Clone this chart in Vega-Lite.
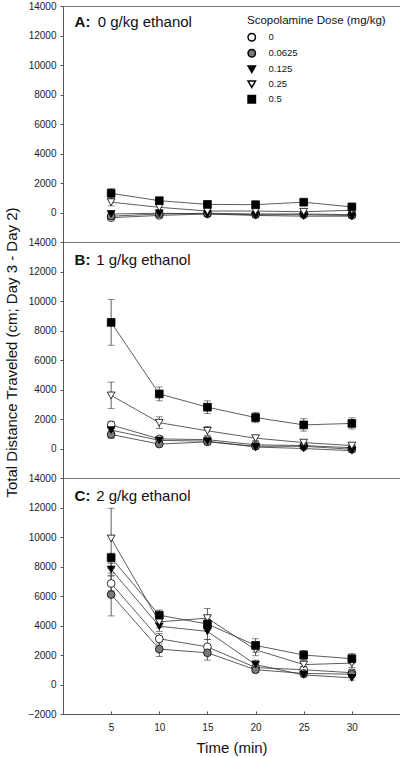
{
  "$schema": "https://vega.github.io/schema/vega-lite/v6.json",
  "padding": {"left": 3, "top": 0, "right": 2, "bottom": 0},
  "background": "white",
  "spacing": 0,
  "bounds": "flush",
  "config": {
    "font": "Liberation Sans",
    "view": {"stroke": "#7a7a7a", "strokeWidth": 1},
    "axis": {"grid": false, "domainColor": "#555555", "tickColor": "#555555", "labelColor": "#222222", "labelFontSize": 10, "labelFont": "Liberation Sans", "titleFont": "Liberation Sans", "titleFontSize": 15, "titleFontWeight": "normal", "titleColor": "#111111", "labelOverlap": false, "format": "d"},
    "axisY": {"labelOverlap": false, "labelBound": false, "tickSize": 3, "labelPadding": 4, "tickCount": 20}
  },
  "datasets": {
    "labels": [
      {"panel": "A", "tag": "A:", "desc": "0 g/kg ethanol"},
      {"panel": "B", "tag": "B:", "desc": "1 g/kg ethanol"},
      {"panel": "C", "tag": "C:", "desc": "2 g/kg ethanol"}
    ],
    "d": [
      {"panel": "A", "dose": "0", "time": 5, "dist": -350, "sem": 100},
      {"panel": "A", "dose": "0", "time": 10, "dist": -200, "sem": 100},
      {"panel": "A", "dose": "0", "time": 15, "dist": -100, "sem": 100},
      {"panel": "A", "dose": "0", "time": 20, "dist": -150, "sem": 100},
      {"panel": "A", "dose": "0", "time": 25, "dist": -150, "sem": 100},
      {"panel": "A", "dose": "0", "time": 30, "dist": -200, "sem": 100},
      {"panel": "A", "dose": "0.0625", "time": 5, "dist": -250, "sem": 100},
      {"panel": "A", "dose": "0.0625", "time": 10, "dist": -100, "sem": 100},
      {"panel": "A", "dose": "0.0625", "time": 15, "dist": -50, "sem": 100},
      {"panel": "A", "dose": "0.0625", "time": 20, "dist": -100, "sem": 100},
      {"panel": "A", "dose": "0.0625", "time": 25, "dist": -100, "sem": 100},
      {"panel": "A", "dose": "0.0625", "time": 30, "dist": -150, "sem": 100},
      {"panel": "A", "dose": "0.125", "time": 5, "dist": -100, "sem": 100},
      {"panel": "A", "dose": "0.125", "time": 10, "dist": -50, "sem": 100},
      {"panel": "A", "dose": "0.125", "time": 15, "dist": -100, "sem": 100},
      {"panel": "A", "dose": "0.125", "time": 20, "dist": -200, "sem": 100},
      {"panel": "A", "dose": "0.125", "time": 25, "dist": -250, "sem": 100},
      {"panel": "A", "dose": "0.125", "time": 30, "dist": -250, "sem": 100},
      {"panel": "A", "dose": "0.25", "time": 5, "dist": 700, "sem": 250},
      {"panel": "A", "dose": "0.25", "time": 10, "dist": 350, "sem": 150},
      {"panel": "A", "dose": "0.25", "time": 15, "dist": 100, "sem": 100},
      {"panel": "A", "dose": "0.25", "time": 20, "dist": 100, "sem": 100},
      {"panel": "A", "dose": "0.25", "time": 25, "dist": 50, "sem": 100},
      {"panel": "A", "dose": "0.25", "time": 30, "dist": 150, "sem": 100},
      {"panel": "A", "dose": "0.5", "time": 5, "dist": 1300, "sem": 320},
      {"panel": "A", "dose": "0.5", "time": 10, "dist": 800, "sem": 150},
      {"panel": "A", "dose": "0.5", "time": 15, "dist": 550, "sem": 120},
      {"panel": "A", "dose": "0.5", "time": 20, "dist": 530, "sem": 120},
      {"panel": "A", "dose": "0.5", "time": 25, "dist": 700, "sem": 120},
      {"panel": "A", "dose": "0.5", "time": 30, "dist": 380, "sem": 120},
      {"panel": "B", "dose": "0", "time": 5, "dist": 1600, "sem": 250},
      {"panel": "B", "dose": "0", "time": 10, "dist": 650, "sem": 150},
      {"panel": "B", "dose": "0", "time": 15, "dist": 600, "sem": 150},
      {"panel": "B", "dose": "0", "time": 20, "dist": 250, "sem": 100},
      {"panel": "B", "dose": "0", "time": 25, "dist": 200, "sem": 100},
      {"panel": "B", "dose": "0", "time": 30, "dist": 50, "sem": 100},
      {"panel": "B", "dose": "0.0625", "time": 5, "dist": 950, "sem": 250},
      {"panel": "B", "dose": "0.0625", "time": 10, "dist": 300, "sem": 120},
      {"panel": "B", "dose": "0.0625", "time": 15, "dist": 450, "sem": 120},
      {"panel": "B", "dose": "0.0625", "time": 20, "dist": 150, "sem": 100},
      {"panel": "B", "dose": "0.0625", "time": 25, "dist": 150, "sem": 100},
      {"panel": "B", "dose": "0.0625", "time": 30, "dist": -50, "sem": 100},
      {"panel": "B", "dose": "0.125", "time": 5, "dist": 1250, "sem": 250},
      {"panel": "B", "dose": "0.125", "time": 10, "dist": 550, "sem": 120},
      {"panel": "B", "dose": "0.125", "time": 15, "dist": 500, "sem": 120},
      {"panel": "B", "dose": "0.125", "time": 20, "dist": 100, "sem": 100},
      {"panel": "B", "dose": "0.125", "time": 25, "dist": 0, "sem": 100},
      {"panel": "B", "dose": "0.125", "time": 30, "dist": -150, "sem": 100},
      {"panel": "B", "dose": "0.25", "time": 5, "dist": 3600, "sem": 900},
      {"panel": "B", "dose": "0.25", "time": 10, "dist": 1750, "sem": 400},
      {"panel": "B", "dose": "0.25", "time": 15, "dist": 1200, "sem": 300},
      {"panel": "B", "dose": "0.25", "time": 20, "dist": 700, "sem": 150},
      {"panel": "B", "dose": "0.25", "time": 25, "dist": 400, "sem": 150},
      {"panel": "B", "dose": "0.25", "time": 30, "dist": 200, "sem": 100},
      {"panel": "B", "dose": "0.5", "time": 5, "dist": 8550, "sem": 1550},
      {"panel": "B", "dose": "0.5", "time": 10, "dist": 3700, "sem": 470},
      {"panel": "B", "dose": "0.5", "time": 15, "dist": 2800, "sem": 430},
      {"panel": "B", "dose": "0.5", "time": 20, "dist": 2100, "sem": 350},
      {"panel": "B", "dose": "0.5", "time": 25, "dist": 1600, "sem": 420},
      {"panel": "B", "dose": "0.5", "time": 30, "dist": 1700, "sem": 380},
      {"panel": "C", "dose": "0", "time": 5, "dist": 6850, "sem": 500},
      {"panel": "C", "dose": "0", "time": 10, "dist": 3100, "sem": 350},
      {"panel": "C", "dose": "0", "time": 15, "dist": 2550, "sem": 500},
      {"panel": "C", "dose": "0", "time": 20, "dist": 1150, "sem": 300},
      {"panel": "C", "dose": "0", "time": 25, "dist": 1000, "sem": 200},
      {"panel": "C", "dose": "0", "time": 30, "dist": 800, "sem": 200},
      {"panel": "C", "dose": "0.0625", "time": 5, "dist": 6100, "sem": 1450},
      {"panel": "C", "dose": "0.0625", "time": 10, "dist": 2400, "sem": 500},
      {"panel": "C", "dose": "0.0625", "time": 15, "dist": 2150, "sem": 500},
      {"panel": "C", "dose": "0.0625", "time": 20, "dist": 1000, "sem": 200},
      {"panel": "C", "dose": "0.0625", "time": 25, "dist": 750, "sem": 150},
      {"panel": "C", "dose": "0.0625", "time": 30, "dist": 700, "sem": 150},
      {"panel": "C", "dose": "0.125", "time": 5, "dist": 7800, "sem": 400},
      {"panel": "C", "dose": "0.125", "time": 10, "dist": 3950, "sem": 350},
      {"panel": "C", "dose": "0.125", "time": 15, "dist": 3600, "sem": 550},
      {"panel": "C", "dose": "0.125", "time": 20, "dist": 1350, "sem": 300},
      {"panel": "C", "dose": "0.125", "time": 25, "dist": 650, "sem": 150},
      {"panel": "C", "dose": "0.125", "time": 30, "dist": 450, "sem": 150},
      {"panel": "C", "dose": "0.25", "time": 5, "dist": 9900, "sem": 2050},
      {"panel": "C", "dose": "0.25", "time": 10, "dist": 4250, "sem": 400},
      {"panel": "C", "dose": "0.25", "time": 15, "dist": 4500, "sem": 650},
      {"panel": "C", "dose": "0.25", "time": 20, "dist": 2350, "sem": 400},
      {"panel": "C", "dose": "0.25", "time": 25, "dist": 1350, "sem": 300},
      {"panel": "C", "dose": "0.25", "time": 30, "dist": 1450, "sem": 300},
      {"panel": "C", "dose": "0.5", "time": 5, "dist": 8600, "sem": 300},
      {"panel": "C", "dose": "0.5", "time": 10, "dist": 4700, "sem": 350},
      {"panel": "C", "dose": "0.5", "time": 15, "dist": 4100, "sem": 300},
      {"panel": "C", "dose": "0.5", "time": 20, "dist": 2650, "sem": 450},
      {"panel": "C", "dose": "0.5", "time": 25, "dist": 2000, "sem": 300},
      {"panel": "C", "dose": "0.5", "time": 30, "dist": 1750, "sem": 350}
    ]
  },
  "resolve": {"legend": {"shape": "independent", "fill": "independent"}},
  "vconcat": [
    {
      "width": 337, "height": 236,
      "layer": [
        {"data": {"name": "d"}, "transform": [{"filter": "datum.panel == 'A'"}],
         "mark": {"type": "line", "color": "#333333", "strokeWidth": 0.8},
         "encoding": {
           "x": {"field": "time", "type": "quantitative", "scale": {"domain": [0, 35], "nice": false}, "axis": null},
           "y": {"field": "dist", "type": "quantitative", "title": null, "scale": {"domain": [-2000, 14000], "nice": false}, "axis": {"values": [0, 2000, 4000, 6000, 8000, 10000, 12000, 14000], "labelOverlap": false, "tickCount": 20}},
           "detail": {"field": "dose"}}},
        {"data": {"name": "d"}, "transform": [{"filter": "datum.panel == 'A'"}],
         "mark": {"type": "errorbar", "color": "#333333", "thickness": 0.8, "ticks": {"size": 7, "color": "#333333", "thickness": 0.8}},
         "encoding": {
           "x": {"field": "time", "type": "quantitative", "axis": null},
           "y": {"field": "dist", "type": "quantitative", "title": null, "axis": {"values": [0, 2000, 4000, 6000, 8000, 10000, 12000, 14000], "labelOverlap": false, "tickCount": 20}},
           "yError": {"field": "sem"},
           "detail": {"field": "dose"}}},
        {"data": {"name": "d"}, "transform": [{"filter": "datum.panel == 'A'"}],
         "mark": {"type": "point", "filled": true, "opacity": 1, "strokeWidth": 0.8, "size": 60},
         "encoding": {
           "x": {"field": "time", "type": "quantitative", "axis": null},
           "y": {"field": "dist", "type": "quantitative", "title": null, "axis": {"values": [0, 2000, 4000, 6000, 8000, 10000, 12000, 14000], "labelOverlap": false, "tickCount": 20}},
           "stroke": {"value": "black"},
           "shape": {"field": "dose", "type": "nominal", "scale": {"domain": ["0", "0.0625", "0.125", "0.25", "0.5"], "range": ["circle", "circle", "triangle-down", "triangle-down", "square"]},
             "legend": {"title": "Scopolamine Dose (mg/kg)", "orient": "none", "legendX": 184, "legendY": 9, "padding": 0, "titleFontSize": 11.5, "titleFontWeight": "normal", "titleFont": "Liberation Sans", "titleColor": "#111111", "titlePadding": 6, "labelFontSize": 9.5, "labelFont": "Liberation Sans", "labelColor": "#111111", "rowPadding": 2, "symbolSize": 55, "labelOffset": 12,
               "encode": {"symbols": {"update": {"stroke": {"value": "black"}, "strokeWidth": {"value": 0.8}, "opacity": {"value": 1}}}}}},
           "fill": {"field": "dose", "type": "nominal", "scale": {"domain": ["0", "0.0625", "0.125", "0.25", "0.5"], "range": ["white", "#7a7a7a", "black", "white", "black"]},
             "legend": {"title": "Scopolamine Dose (mg/kg)", "orient": "none", "legendX": 184, "legendY": 9, "padding": 0, "titleFontSize": 11.5, "titleFontWeight": "normal", "titleFont": "Liberation Sans", "titleColor": "#111111", "titlePadding": 6, "labelFontSize": 9.5, "labelFont": "Liberation Sans", "labelColor": "#111111", "rowPadding": 2, "symbolSize": 55, "labelOffset": 12,
               "encode": {"symbols": {"update": {"stroke": {"value": "black"}, "strokeWidth": {"value": 0.8}, "opacity": {"value": 1}}}}}}}},
        {"data": {"name": "labels"}, "transform": [{"filter": "datum.panel == 'A'"}],
         "mark": {"type": "text", "align": "left", "baseline": "middle", "fontSize": 15, "fontWeight": "bold", "font": "Liberation Sans", "color": "#111111"},
         "encoding": {"x": {"datum": 1.2}, "y": {"datum": 12900}, "text": {"field": "tag"}}},
        {"data": {"name": "labels"}, "transform": [{"filter": "datum.panel == 'A'"}],
         "mark": {"type": "text", "align": "left", "baseline": "middle", "fontSize": 15, "font": "Liberation Sans", "color": "#111111"},
         "encoding": {"x": {"datum": 3.6}, "y": {"datum": 12900}, "text": {"field": "desc"}}}
      ]
    },
    {
      "width": 337, "height": 236,
      "layer": [
        {"data": {"name": "d"}, "transform": [{"filter": "datum.panel == 'B'"}],
         "mark": {"type": "line", "color": "#333333", "strokeWidth": 0.8},
         "encoding": {
           "x": {"field": "time", "type": "quantitative", "scale": {"domain": [0, 35], "nice": false}, "axis": null},
           "y": {"field": "dist", "type": "quantitative", "title": "Total Distance Traveled (cm; Day 3 - Day 2)", "scale": {"domain": [-2000, 14000], "nice": false}, "axis": {"values": [0, 2000, 4000, 6000, 8000, 10000, 12000, 14000], "labelOverlap": false, "tickCount": 20, "titlePadding": 9, "titleY": 110}},
           "detail": {"field": "dose"}}},
        {"data": {"name": "d"}, "transform": [{"filter": "datum.panel == 'B'"}],
         "mark": {"type": "errorbar", "color": "#333333", "thickness": 0.8, "ticks": {"size": 7, "color": "#333333", "thickness": 0.8}},
         "encoding": {
           "x": {"field": "time", "type": "quantitative", "axis": null},
           "y": {"field": "dist", "type": "quantitative", "title": "Total Distance Traveled (cm; Day 3 - Day 2)", "axis": {"values": [0, 2000, 4000, 6000, 8000, 10000, 12000, 14000], "labelOverlap": false, "tickCount": 20, "titlePadding": 9, "titleY": 110}},
           "yError": {"field": "sem"},
           "detail": {"field": "dose"}}},
        {"data": {"name": "d"}, "transform": [{"filter": "datum.panel == 'B'"}],
         "mark": {"type": "point", "filled": true, "opacity": 1, "strokeWidth": 0.8, "size": 60},
         "encoding": {
           "x": {"field": "time", "type": "quantitative", "axis": null},
           "y": {"field": "dist", "type": "quantitative", "title": "Total Distance Traveled (cm; Day 3 - Day 2)", "axis": {"values": [0, 2000, 4000, 6000, 8000, 10000, 12000, 14000], "labelOverlap": false, "tickCount": 20, "titlePadding": 9, "titleY": 110}},
           "stroke": {"value": "black"},
           "shape": {"field": "dose", "type": "nominal", "scale": {"domain": ["0", "0.0625", "0.125", "0.25", "0.5"], "range": ["circle", "circle", "triangle-down", "triangle-down", "square"]}, "legend": null},
           "fill": {"field": "dose", "type": "nominal", "scale": {"domain": ["0", "0.0625", "0.125", "0.25", "0.5"], "range": ["white", "#7a7a7a", "black", "white", "black"]}, "legend": null}}},
        {"data": {"name": "labels"}, "transform": [{"filter": "datum.panel == 'B'"}],
         "mark": {"type": "text", "align": "left", "baseline": "middle", "fontSize": 15, "fontWeight": "bold", "font": "Liberation Sans", "color": "#111111"},
         "encoding": {"x": {"datum": 1.2}, "y": {"datum": 12800}, "text": {"field": "tag"}}},
        {"data": {"name": "labels"}, "transform": [{"filter": "datum.panel == 'B'"}],
         "mark": {"type": "text", "align": "left", "baseline": "middle", "fontSize": 15, "font": "Liberation Sans", "color": "#111111"},
         "encoding": {"x": {"datum": 3.45}, "y": {"datum": 12800}, "text": {"field": "desc"}}}
      ]
    },
    {
      "width": 337, "height": 236,
      "layer": [
        {"data": {"name": "d"}, "transform": [{"filter": "datum.panel == 'C'"}],
         "mark": {"type": "line", "color": "#333333", "strokeWidth": 0.8},
         "encoding": {
           "x": {"field": "time", "type": "quantitative", "title": "Time (min)", "scale": {"domain": [0, 35], "nice": false}, "axis": {"values": [5, 10, 15, 20, 25, 30], "tickSize": -3, "labelPadding": 11, "titlePadding": 8, "tickCount": 20}},
           "y": {"field": "dist", "type": "quantitative", "title": null, "scale": {"domain": [-2000, 14000], "nice": false}, "axis": {"values": [-2000, 0, 2000, 4000, 6000, 8000, 10000, 12000, 14000], "labelOverlap": false, "tickCount": 20}},
           "detail": {"field": "dose"}}},
        {"data": {"name": "d"}, "transform": [{"filter": "datum.panel == 'C'"}],
         "mark": {"type": "errorbar", "color": "#333333", "thickness": 0.8, "ticks": {"size": 7, "color": "#333333", "thickness": 0.8}},
         "encoding": {
           "x": {"field": "time", "type": "quantitative", "title": "Time (min)", "axis": {"values": [5, 10, 15, 20, 25, 30], "tickSize": -3, "labelPadding": 11, "titlePadding": 8, "tickCount": 20}},
           "y": {"field": "dist", "type": "quantitative", "title": null, "axis": {"values": [-2000, 0, 2000, 4000, 6000, 8000, 10000, 12000, 14000], "labelOverlap": false, "tickCount": 20}},
           "yError": {"field": "sem"},
           "detail": {"field": "dose"}}},
        {"data": {"name": "d"}, "transform": [{"filter": "datum.panel == 'C'"}],
         "mark": {"type": "point", "filled": true, "opacity": 1, "strokeWidth": 0.8, "size": 60},
         "encoding": {
           "x": {"field": "time", "type": "quantitative", "title": "Time (min)", "axis": {"values": [5, 10, 15, 20, 25, 30], "tickSize": -3, "labelPadding": 11, "titlePadding": 8, "tickCount": 20}},
           "y": {"field": "dist", "type": "quantitative", "title": null, "axis": {"values": [-2000, 0, 2000, 4000, 6000, 8000, 10000, 12000, 14000], "labelOverlap": false, "tickCount": 20}},
           "stroke": {"value": "black"},
           "shape": {"field": "dose", "type": "nominal", "scale": {"domain": ["0", "0.0625", "0.125", "0.25", "0.5"], "range": ["circle", "circle", "triangle-down", "triangle-down", "square"]}, "legend": null},
           "fill": {"field": "dose", "type": "nominal", "scale": {"domain": ["0", "0.0625", "0.125", "0.25", "0.5"], "range": ["white", "#7a7a7a", "black", "white", "black"]}, "legend": null}}},
        {"data": {"name": "labels"}, "transform": [{"filter": "datum.panel == 'C'"}],
         "mark": {"type": "text", "align": "left", "baseline": "middle", "fontSize": 15, "fontWeight": "bold", "font": "Liberation Sans", "color": "#111111"},
         "encoding": {"x": {"datum": 1.2}, "y": {"datum": 12800}, "text": {"field": "tag"}}},
        {"data": {"name": "labels"}, "transform": [{"filter": "datum.panel == 'C'"}],
         "mark": {"type": "text", "align": "left", "baseline": "middle", "fontSize": 15, "font": "Liberation Sans", "color": "#111111"},
         "encoding": {"x": {"datum": 3.45}, "y": {"datum": 12800}, "text": {"field": "desc"}}}
      ]
    }
  ]
}
